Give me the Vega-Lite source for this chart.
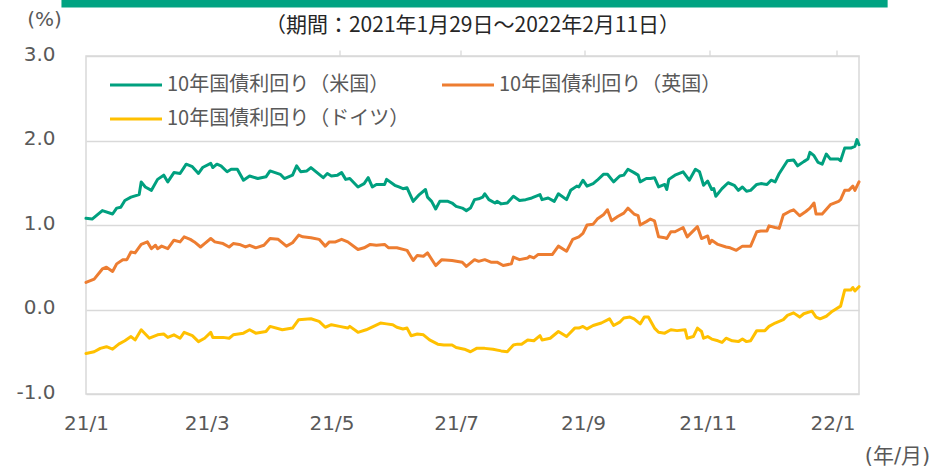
{
"$schema":"https://vega.github.io/schema/vega-lite/v6.json",
"width":773,"height":338,
"autosize":{"type":"none"},
"padding":{"left":86,"top":56,"right":74,"bottom":73},
"background":"#ffffff",
"config":{"view":{"stroke":"#d9d9d9","strokeWidth":1.5},"font":"Noto Sans CJK JP"},
"title":{"text":"（期間：2021年1月29日～2022年2月11日）","font":"Noto Sans CJK JP","fontSize":21,"fontWeight":"normal","color":"#262626","anchor":"middle","frame":"group","offset":-36},
"layer":[
{"data":{"values":[{"name":"header"}]},
"mark":{"type":"rect","color":"#00a382","clip":false},
"encoding":{
"x":{"datum":{"year":2021,"month":1,"date":17,"utc":true},"type":"temporal",
"scale":{"type":"utc","domain":[{"year":2021,"month":1,"date":29,"utc":true},{"year":2022,"month":2,"date":11,"utc":true}]},
"axis":{"orient":"top","position":253.5,"labels":false,"ticks":true,"tickSize":6,"tickColor":"#d9d9d9","tickWidth":1.3,"domain":false,"grid":false,"title":null,
"values":[{"year":2021,"month":1,"date":29,"utc":true},{"year":2021,"month":3,"date":29,"utc":true},{"year":2021,"month":5,"date":29,"utc":true},{"year":2021,"month":7,"date":29,"utc":true},{"year":2021,"month":9,"date":29,"utc":true},{"year":2021,"month":11,"date":29,"utc":true},{"year":2022,"month":1,"date":29,"utc":true}]}},
"x2":{"datum":{"year":2022,"month":2,"date":25,"utc":true}},
"y":{"datum":3.663,"type":"quantitative","scale":{"domain":[-1,3],"nice":false,"zero":false}},
"y2":{"datum":3.574}
}},
{"data":{"values":[
{"d":"2021-01-29","s":"米国","v":1.08},{"d":"2021-02-01","s":"米国","v":1.07},{"d":"2021-02-06","s":"米国","v":1.17},{"d":"2021-02-11","s":"米国","v":1.13},{"d":"2021-02-13","s":"米国","v":1.20},{"d":"2021-02-15","s":"米国","v":1.21},{"d":"2021-02-17","s":"米国","v":1.29},{"d":"2021-02-20","s":"米国","v":1.33},{"d":"2021-02-24","s":"米国","v":1.36},{"d":"2021-02-25","s":"米国","v":1.51},{"d":"2021-02-27","s":"米国","v":1.45},{"d":"2021-03-02","s":"米国","v":1.41},{"d":"2021-03-05","s":"米国","v":1.54},{"d":"2021-03-08","s":"米国","v":1.59},{"d":"2021-03-10","s":"米国","v":1.51},{"d":"2021-03-13","s":"米国","v":1.62},{"d":"2021-03-16","s":"米国","v":1.61},{"d":"2021-03-19","s":"米国","v":1.72},{"d":"2021-03-22","s":"米国","v":1.69},{"d":"2021-03-25","s":"米国","v":1.61},{"d":"2021-03-27","s":"米国","v":1.68},{"d":"2021-03-31","s":"米国","v":1.73},{"d":"2021-04-01","s":"米国","v":1.68},{"d":"2021-04-03","s":"米国","v":1.72},{"d":"2021-04-05","s":"米国","v":1.70},{"d":"2021-04-08","s":"米国","v":1.63},{"d":"2021-04-10","s":"米国","v":1.66},{"d":"2021-04-13","s":"米国","v":1.66},{"d":"2021-04-16","s":"米国","v":1.53},{"d":"2021-04-19","s":"米国","v":1.58},{"d":"2021-04-23","s":"米国","v":1.55},{"d":"2021-04-27","s":"米国","v":1.57},{"d":"2021-04-29","s":"米国","v":1.64},{"d":"2021-05-04","s":"米国","v":1.60},{"d":"2021-05-06","s":"米国","v":1.55},{"d":"2021-05-10","s":"米国","v":1.59},{"d":"2021-05-12","s":"米国","v":1.70},{"d":"2021-05-14","s":"米国","v":1.63},{"d":"2021-05-17","s":"米国","v":1.64},{"d":"2021-05-19","s":"米国","v":1.68},{"d":"2021-05-22","s":"米国","v":1.62},{"d":"2021-05-25","s":"米国","v":1.56},{"d":"2021-05-27","s":"米国","v":1.61},{"d":"2021-05-29","s":"米国","v":1.58},{"d":"2021-06-01","s":"米国","v":1.59},{"d":"2021-06-03","s":"米国","v":1.62},{"d":"2021-06-05","s":"米国","v":1.54},{"d":"2021-06-07","s":"米国","v":1.55},{"d":"2021-06-11","s":"米国","v":1.45},{"d":"2021-06-14","s":"米国","v":1.49},{"d":"2021-06-16","s":"米国","v":1.56},{"d":"2021-06-18","s":"米国","v":1.45},{"d":"2021-06-20","s":"米国","v":1.48},{"d":"2021-06-24","s":"米国","v":1.48},{"d":"2021-06-25","s":"米国","v":1.54},{"d":"2021-06-29","s":"米国","v":1.47},{"d":"2021-07-01","s":"米国","v":1.45},{"d":"2021-07-03","s":"米国","v":1.43},{"d":"2021-07-05","s":"米国","v":1.44},{"d":"2021-07-08","s":"米国","v":1.28},{"d":"2021-07-11","s":"米国","v":1.36},{"d":"2021-07-14","s":"米国","v":1.42},{"d":"2021-07-15","s":"米国","v":1.33},{"d":"2021-07-17","s":"米国","v":1.28},{"d":"2021-07-19","s":"米国","v":1.19},{"d":"2021-07-21","s":"米国","v":1.28},{"d":"2021-07-25","s":"米国","v":1.28},{"d":"2021-07-27","s":"米国","v":1.26},{"d":"2021-07-29","s":"米国","v":1.22},{"d":"2021-08-01","s":"米国","v":1.20},{"d":"2021-08-03","s":"米国","v":1.17},{"d":"2021-08-05","s":"米国","v":1.20},{"d":"2021-08-07","s":"米国","v":1.30},{"d":"2021-08-09","s":"米国","v":1.31},{"d":"2021-08-11","s":"米国","v":1.33},{"d":"2021-08-12","s":"米国","v":1.37},{"d":"2021-08-14","s":"米国","v":1.30},{"d":"2021-08-17","s":"米国","v":1.26},{"d":"2021-08-18","s":"米国","v":1.28},{"d":"2021-08-20","s":"米国","v":1.25},{"d":"2021-08-23","s":"米国","v":1.26},{"d":"2021-08-26","s":"米国","v":1.34},{"d":"2021-08-29","s":"米国","v":1.29},{"d":"2021-09-01","s":"米国","v":1.30},{"d":"2021-09-04","s":"米国","v":1.32},{"d":"2021-09-08","s":"米国","v":1.36},{"d":"2021-09-09","s":"米国","v":1.30},{"d":"2021-09-12","s":"米国","v":1.32},{"d":"2021-09-15","s":"米国","v":1.28},{"d":"2021-09-17","s":"米国","v":1.37},{"d":"2021-09-21","s":"米国","v":1.30},{"d":"2021-09-23","s":"米国","v":1.41},{"d":"2021-09-26","s":"米国","v":1.46},{"d":"2021-09-27","s":"米国","v":1.45},{"d":"2021-09-29","s":"米国","v":1.53},{"d":"2021-10-01","s":"米国","v":1.46},{"d":"2021-10-04","s":"米国","v":1.49},{"d":"2021-10-06","s":"米国","v":1.53},{"d":"2021-10-09","s":"米国","v":1.60},{"d":"2021-10-11","s":"米国","v":1.60},{"d":"2021-10-14","s":"米国","v":1.51},{"d":"2021-10-17","s":"米国","v":1.58},{"d":"2021-10-19","s":"米国","v":1.59},{"d":"2021-10-21","s":"米国","v":1.66},{"d":"2021-10-24","s":"米国","v":1.62},{"d":"2021-10-26","s":"米国","v":1.59},{"d":"2021-10-27","s":"米国","v":1.51},{"d":"2021-10-30","s":"米国","v":1.55},{"d":"2021-11-01","s":"米国","v":1.55},{"d":"2021-11-03","s":"米国","v":1.56},{"d":"2021-11-05","s":"米国","v":1.45},{"d":"2021-11-08","s":"米国","v":1.48},{"d":"2021-11-09","s":"米国","v":1.42},{"d":"2021-11-10","s":"米国","v":1.54},{"d":"2021-11-13","s":"米国","v":1.59},{"d":"2021-11-17","s":"米国","v":1.63},{"d":"2021-11-20","s":"米国","v":1.53},{"d":"2021-11-23","s":"米国","v":1.66},{"d":"2021-11-25","s":"米国","v":1.63},{"d":"2021-11-27","s":"米国","v":1.47},{"d":"2021-11-29","s":"米国","v":1.52},{"d":"2021-12-01","s":"米国","v":1.42},{"d":"2021-12-02","s":"米国","v":1.43},{"d":"2021-12-03","s":"米国","v":1.34},{"d":"2021-12-06","s":"米国","v":1.43},{"d":"2021-12-09","s":"米国","v":1.50},{"d":"2021-12-12","s":"米国","v":1.47},{"d":"2021-12-14","s":"米国","v":1.41},{"d":"2021-12-16","s":"米国","v":1.45},{"d":"2021-12-18","s":"米国","v":1.40},{"d":"2021-12-20","s":"米国","v":1.41},{"d":"2021-12-23","s":"米国","v":1.48},{"d":"2021-12-25","s":"米国","v":1.49},{"d":"2021-12-28","s":"米国","v":1.48},{"d":"2021-12-30","s":"米国","v":1.53},{"d":"2022-01-01","s":"米国","v":1.51},{"d":"2022-01-03","s":"米国","v":1.61},{"d":"2022-01-07","s":"米国","v":1.76},{"d":"2022-01-10","s":"米国","v":1.77},{"d":"2022-01-12","s":"米国","v":1.70},{"d":"2022-01-15","s":"米国","v":1.75},{"d":"2022-01-17","s":"米国","v":1.78},{"d":"2022-01-18","s":"米国","v":1.86},{"d":"2022-01-20","s":"米国","v":1.82},{"d":"2022-01-22","s":"米国","v":1.74},{"d":"2022-01-24","s":"米国","v":1.72},{"d":"2022-01-26","s":"米国","v":1.84},{"d":"2022-01-28","s":"米国","v":1.78},{"d":"2022-02-01","s":"米国","v":1.78},{"d":"2022-02-02","s":"米国","v":1.76},{"d":"2022-02-04","s":"米国","v":1.91},{"d":"2022-02-07","s":"米国","v":1.91},{"d":"2022-02-09","s":"米国","v":1.93},{"d":"2022-02-10","s":"米国","v":2.01},{"d":"2022-02-11","s":"米国","v":1.95},
{"d":"2021-01-29","s":"英国","v":0.32},{"d":"2021-02-02","s":"英国","v":0.36},{"d":"2021-02-06","s":"英国","v":0.48},{"d":"2021-02-08","s":"英国","v":0.50},{"d":"2021-02-11","s":"英国","v":0.45},{"d":"2021-02-13","s":"英国","v":0.54},{"d":"2021-02-16","s":"英国","v":0.59},{"d":"2021-02-18","s":"英国","v":0.59},{"d":"2021-02-20","s":"英国","v":0.68},{"d":"2021-02-22","s":"英国","v":0.67},{"d":"2021-02-25","s":"英国","v":0.77},{"d":"2021-02-28","s":"英国","v":0.80},{"d":"2021-03-02","s":"英国","v":0.72},{"d":"2021-03-04","s":"英国","v":0.76},{"d":"2021-03-05","s":"英国","v":0.72},{"d":"2021-03-07","s":"英国","v":0.75},{"d":"2021-03-10","s":"英国","v":0.72},{"d":"2021-03-13","s":"英国","v":0.82},{"d":"2021-03-16","s":"英国","v":0.80},{"d":"2021-03-18","s":"英国","v":0.86},{"d":"2021-03-21","s":"英国","v":0.83},{"d":"2021-03-23","s":"英国","v":0.80},{"d":"2021-03-26","s":"英国","v":0.74},{"d":"2021-03-28","s":"英国","v":0.78},{"d":"2021-03-31","s":"英国","v":0.84},{"d":"2021-04-02","s":"英国","v":0.80},{"d":"2021-04-06","s":"英国","v":0.78},{"d":"2021-04-09","s":"英国","v":0.74},{"d":"2021-04-11","s":"英国","v":0.78},{"d":"2021-04-14","s":"英国","v":0.77},{"d":"2021-04-17","s":"英国","v":0.74},{"d":"2021-04-19","s":"英国","v":0.76},{"d":"2021-04-22","s":"英国","v":0.73},{"d":"2021-04-26","s":"英国","v":0.76},{"d":"2021-04-29","s":"英国","v":0.84},{"d":"2021-05-03","s":"英国","v":0.83},{"d":"2021-05-07","s":"英国","v":0.75},{"d":"2021-05-10","s":"英国","v":0.79},{"d":"2021-05-13","s":"英国","v":0.88},{"d":"2021-05-15","s":"英国","v":0.86},{"d":"2021-05-19","s":"英国","v":0.85},{"d":"2021-05-23","s":"英国","v":0.83},{"d":"2021-05-26","s":"英国","v":0.75},{"d":"2021-05-28","s":"英国","v":0.80},{"d":"2021-05-31","s":"英国","v":0.80},{"d":"2021-06-03","s":"英国","v":0.83},{"d":"2021-06-06","s":"英国","v":0.80},{"d":"2021-06-11","s":"英国","v":0.71},{"d":"2021-06-14","s":"英国","v":0.73},{"d":"2021-06-17","s":"英国","v":0.77},{"d":"2021-06-20","s":"英国","v":0.76},{"d":"2021-06-24","s":"英国","v":0.77},{"d":"2021-06-26","s":"英国","v":0.73},{"d":"2021-06-30","s":"英国","v":0.73},{"d":"2021-07-05","s":"英国","v":0.70},{"d":"2021-07-08","s":"英国","v":0.58},{"d":"2021-07-10","s":"英国","v":0.64},{"d":"2021-07-13","s":"英国","v":0.63},{"d":"2021-07-15","s":"英国","v":0.67},{"d":"2021-07-19","s":"英国","v":0.52},{"d":"2021-07-22","s":"英国","v":0.59},{"d":"2021-07-27","s":"英国","v":0.58},{"d":"2021-08-01","s":"英国","v":0.56},{"d":"2021-08-03","s":"英国","v":0.51},{"d":"2021-08-07","s":"英国","v":0.59},{"d":"2021-08-09","s":"英国","v":0.57},{"d":"2021-08-12","s":"英国","v":0.59},{"d":"2021-08-15","s":"英国","v":0.56},{"d":"2021-08-18","s":"英国","v":0.56},{"d":"2021-08-21","s":"英国","v":0.52},{"d":"2021-08-25","s":"英国","v":0.54},{"d":"2021-08-26","s":"英国","v":0.62},{"d":"2021-08-29","s":"英国","v":0.59},{"d":"2021-09-02","s":"英国","v":0.61},{"d":"2021-09-03","s":"英国","v":0.63},{"d":"2021-09-05","s":"英国","v":0.61},{"d":"2021-09-07","s":"英国","v":0.65},{"d":"2021-09-11","s":"英国","v":0.65},{"d":"2021-09-14","s":"英国","v":0.65},{"d":"2021-09-17","s":"英国","v":0.75},{"d":"2021-09-21","s":"英国","v":0.69},{"d":"2021-09-24","s":"英国","v":0.83},{"d":"2021-09-27","s":"英国","v":0.86},{"d":"2021-09-29","s":"英国","v":0.90},{"d":"2021-10-01","s":"英国","v":1.00},{"d":"2021-10-04","s":"英国","v":1.01},{"d":"2021-10-06","s":"英国","v":1.07},{"d":"2021-10-09","s":"英国","v":1.12},{"d":"2021-10-11","s":"英国","v":1.18},{"d":"2021-10-13","s":"英国","v":1.05},{"d":"2021-10-16","s":"英国","v":1.10},{"d":"2021-10-19","s":"英国","v":1.14},{"d":"2021-10-21","s":"英国","v":1.20},{"d":"2021-10-24","s":"英国","v":1.13},{"d":"2021-10-26","s":"英国","v":1.11},{"d":"2021-10-27","s":"英国","v":1.00},{"d":"2021-10-30","s":"英国","v":1.04},{"d":"2021-11-01","s":"英国","v":1.07},{"d":"2021-11-03","s":"英国","v":1.05},{"d":"2021-11-05","s":"英国","v":0.86},{"d":"2021-11-08","s":"英国","v":0.85},{"d":"2021-11-09","s":"英国","v":0.84},{"d":"2021-11-11","s":"英国","v":0.92},{"d":"2021-11-13","s":"英国","v":0.92},{"d":"2021-11-17","s":"英国","v":0.97},{"d":"2021-11-19","s":"英国","v":0.86},{"d":"2021-11-24","s":"英国","v":0.98},{"d":"2021-11-26","s":"英国","v":0.84},{"d":"2021-11-29","s":"英国","v":0.87},{"d":"2021-11-30","s":"英国","v":0.78},{"d":"2021-12-01","s":"英国","v":0.82},{"d":"2021-12-04","s":"英国","v":0.77},{"d":"2021-12-08","s":"英国","v":0.74},{"d":"2021-12-10","s":"英国","v":0.73},{"d":"2021-12-13","s":"英国","v":0.70},{"d":"2021-12-16","s":"英国","v":0.75},{"d":"2021-12-20","s":"英国","v":0.75},{"d":"2021-12-23","s":"英国","v":0.92},{"d":"2021-12-25","s":"英国","v":0.93},{"d":"2021-12-28","s":"英国","v":0.93},{"d":"2021-12-29","s":"英国","v":0.99},{"d":"2022-01-01","s":"英国","v":0.97},{"d":"2022-01-03","s":"英国","v":0.96},{"d":"2022-01-05","s":"英国","v":1.12},{"d":"2022-01-08","s":"英国","v":1.16},{"d":"2022-01-10","s":"英国","v":1.18},{"d":"2022-01-13","s":"英国","v":1.11},{"d":"2022-01-16","s":"英国","v":1.16},{"d":"2022-01-18","s":"英国","v":1.20},{"d":"2022-01-20","s":"英国","v":1.26},{"d":"2022-01-21","s":"英国","v":1.13},{"d":"2022-01-24","s":"英国","v":1.13},{"d":"2022-01-28","s":"英国","v":1.24},{"d":"2022-02-01","s":"英国","v":1.28},{"d":"2022-02-02","s":"英国","v":1.30},{"d":"2022-02-04","s":"英国","v":1.41},{"d":"2022-02-06","s":"英国","v":1.41},{"d":"2022-02-08","s":"英国","v":1.46},{"d":"2022-02-09","s":"英国","v":1.41},{"d":"2022-02-11","s":"英国","v":1.51},
{"d":"2021-01-29","s":"ドイツ","v":-0.52},{"d":"2021-02-02","s":"ドイツ","v":-0.50},{"d":"2021-02-05","s":"ドイツ","v":-0.46},{"d":"2021-02-08","s":"ドイツ","v":-0.44},{"d":"2021-02-11","s":"ドイツ","v":-0.47},{"d":"2021-02-14","s":"ドイツ","v":-0.41},{"d":"2021-02-17","s":"ドイツ","v":-0.37},{"d":"2021-02-20","s":"ドイツ","v":-0.32},{"d":"2021-02-22","s":"ドイツ","v":-0.36},{"d":"2021-02-25","s":"ドイツ","v":-0.24},{"d":"2021-03-01","s":"ドイツ","v":-0.34},{"d":"2021-03-05","s":"ドイツ","v":-0.30},{"d":"2021-03-08","s":"ドイツ","v":-0.29},{"d":"2021-03-10","s":"ドイツ","v":-0.33},{"d":"2021-03-13","s":"ドイツ","v":-0.30},{"d":"2021-03-16","s":"ドイツ","v":-0.34},{"d":"2021-03-18","s":"ドイツ","v":-0.27},{"d":"2021-03-22","s":"ドイツ","v":-0.31},{"d":"2021-03-25","s":"ドイツ","v":-0.38},{"d":"2021-03-28","s":"ドイツ","v":-0.34},{"d":"2021-03-31","s":"ドイツ","v":-0.27},{"d":"2021-04-01","s":"ドイツ","v":-0.33},{"d":"2021-04-06","s":"ドイツ","v":-0.33},{"d":"2021-04-09","s":"ドイツ","v":-0.34},{"d":"2021-04-11","s":"ドイツ","v":-0.30},{"d":"2021-04-16","s":"ドイツ","v":-0.28},{"d":"2021-04-19","s":"ドイツ","v":-0.24},{"d":"2021-04-22","s":"ドイツ","v":-0.28},{"d":"2021-04-27","s":"ドイツ","v":-0.26},{"d":"2021-04-29","s":"ドイツ","v":-0.20},{"d":"2021-05-05","s":"ドイツ","v":-0.24},{"d":"2021-05-10","s":"ドイツ","v":-0.22},{"d":"2021-05-13","s":"ドイツ","v":-0.12},{"d":"2021-05-19","s":"ドイツ","v":-0.11},{"d":"2021-05-23","s":"ドイツ","v":-0.14},{"d":"2021-05-26","s":"ドイツ","v":-0.21},{"d":"2021-05-29","s":"ドイツ","v":-0.18},{"d":"2021-06-02","s":"ドイツ","v":-0.20},{"d":"2021-06-06","s":"ドイツ","v":-0.22},{"d":"2021-06-07","s":"ドイツ","v":-0.20},{"d":"2021-06-11","s":"ドイツ","v":-0.27},{"d":"2021-06-15","s":"ドイツ","v":-0.24},{"d":"2021-06-22","s":"ドイツ","v":-0.16},{"d":"2021-06-25","s":"ドイツ","v":-0.17},{"d":"2021-06-28","s":"ドイツ","v":-0.18},{"d":"2021-06-30","s":"ドイツ","v":-0.21},{"d":"2021-07-03","s":"ドイツ","v":-0.23},{"d":"2021-07-05","s":"ドイツ","v":-0.22},{"d":"2021-07-07","s":"ドイツ","v":-0.31},{"d":"2021-07-10","s":"ドイツ","v":-0.29},{"d":"2021-07-13","s":"ドイツ","v":-0.30},{"d":"2021-07-16","s":"ドイツ","v":-0.36},{"d":"2021-07-20","s":"ドイツ","v":-0.41},{"d":"2021-07-23","s":"ドイツ","v":-0.42},{"d":"2021-07-27","s":"ドイツ","v":-0.42},{"d":"2021-07-29","s":"ドイツ","v":-0.45},{"d":"2021-08-02","s":"ドイツ","v":-0.47},{"d":"2021-08-05","s":"ドイツ","v":-0.50},{"d":"2021-08-08","s":"ドイツ","v":-0.46},{"d":"2021-08-12","s":"ドイツ","v":-0.46},{"d":"2021-08-16","s":"ドイツ","v":-0.47},{"d":"2021-08-20","s":"ドイツ","v":-0.49},{"d":"2021-08-23","s":"ドイツ","v":-0.50},{"d":"2021-08-26","s":"ドイツ","v":-0.42},{"d":"2021-08-28","s":"ドイツ","v":-0.41},{"d":"2021-08-30","s":"ドイツ","v":-0.41},{"d":"2021-09-02","s":"ドイツ","v":-0.36},{"d":"2021-09-05","s":"ドイツ","v":-0.37},{"d":"2021-09-08","s":"ドイツ","v":-0.31},{"d":"2021-09-09","s":"ドイツ","v":-0.36},{"d":"2021-09-13","s":"ドイツ","v":-0.34},{"d":"2021-09-17","s":"ドイツ","v":-0.26},{"d":"2021-09-21","s":"ドイツ","v":-0.32},{"d":"2021-09-25","s":"ドイツ","v":-0.22},{"d":"2021-09-27","s":"ドイツ","v":-0.22},{"d":"2021-09-29","s":"ドイツ","v":-0.20},{"d":"2021-10-01","s":"ドイツ","v":-0.23},{"d":"2021-10-04","s":"ドイツ","v":-0.19},{"d":"2021-10-08","s":"ドイツ","v":-0.16},{"d":"2021-10-12","s":"ドイツ","v":-0.11},{"d":"2021-10-14","s":"ドイツ","v":-0.19},{"d":"2021-10-17","s":"ドイツ","v":-0.15},{"d":"2021-10-19","s":"ドイツ","v":-0.10},{"d":"2021-10-22","s":"ドイツ","v":-0.09},{"d":"2021-10-24","s":"ドイツ","v":-0.11},{"d":"2021-10-27","s":"ドイツ","v":-0.17},{"d":"2021-10-29","s":"ドイツ","v":-0.09},{"d":"2021-10-31","s":"ドイツ","v":-0.09},{"d":"2021-11-03","s":"ドイツ","v":-0.22},{"d":"2021-11-05","s":"ドイツ","v":-0.27},{"d":"2021-11-08","s":"ドイツ","v":-0.28},{"d":"2021-11-11","s":"ドイツ","v":-0.24},{"d":"2021-11-14","s":"ドイツ","v":-0.25},{"d":"2021-11-18","s":"ドイツ","v":-0.24},{"d":"2021-11-19","s":"ドイツ","v":-0.34},{"d":"2021-11-22","s":"ドイツ","v":-0.32},{"d":"2021-11-24","s":"ドイツ","v":-0.22},{"d":"2021-11-26","s":"ドイツ","v":-0.26},{"d":"2021-11-27","s":"ドイツ","v":-0.34},{"d":"2021-11-29","s":"ドイツ","v":-0.32},{"d":"2021-12-01","s":"ドイツ","v":-0.35},{"d":"2021-12-04","s":"ドイツ","v":-0.37},{"d":"2021-12-06","s":"ドイツ","v":-0.39},{"d":"2021-12-08","s":"ドイツ","v":-0.34},{"d":"2021-12-11","s":"ドイツ","v":-0.37},{"d":"2021-12-14","s":"ドイツ","v":-0.38},{"d":"2021-12-16","s":"ドイツ","v":-0.35},{"d":"2021-12-18","s":"ドイツ","v":-0.38},{"d":"2021-12-20","s":"ドイツ","v":-0.37},{"d":"2021-12-23","s":"ドイツ","v":-0.25},{"d":"2021-12-27","s":"ドイツ","v":-0.25},{"d":"2021-12-29","s":"ドイツ","v":-0.20},{"d":"2022-01-01","s":"ドイツ","v":-0.16},{"d":"2022-01-05","s":"ドイツ","v":-0.12},{"d":"2022-01-07","s":"ドイツ","v":-0.07},{"d":"2022-01-10","s":"ドイツ","v":-0.04},{"d":"2022-01-13","s":"ドイツ","v":-0.09},{"d":"2022-01-15","s":"ドイツ","v":-0.05},{"d":"2022-01-19","s":"ドイツ","v":-0.02},{"d":"2022-01-21","s":"ドイツ","v":-0.09},{"d":"2022-01-23","s":"ドイツ","v":-0.11},{"d":"2022-01-26","s":"ドイツ","v":-0.08},{"d":"2022-01-29","s":"ドイツ","v":-0.02},{"d":"2022-02-02","s":"ドイツ","v":0.04},{"d":"2022-02-04","s":"ドイツ","v":0.23},{"d":"2022-02-07","s":"ドイツ","v":0.23},{"d":"2022-02-08","s":"ドイツ","v":0.26},{"d":"2022-02-09","s":"ドイツ","v":0.22},{"d":"2022-02-11","s":"ドイツ","v":0.27}
]},
"mark":{"type":"line","strokeWidth":3,"strokeJoin":"round","strokeCap":"round"},
"encoding":{
"x":{"field":"d","type":"temporal",
"scale":{"type":"utc","domain":[{"year":2021,"month":1,"date":29,"utc":true},{"year":2022,"month":2,"date":11,"utc":true}]},
"axis":{"orient":"bottom","format":"%y/%-m","labelFlush":false,"labelOverlap":false,"labelBound":false,"labelAlign":"center","labelFont":"DejaVu Sans","labelFontSize":20,"labelColor":"#595959","labelPadding":19,"ticks":false,"domain":false,"grid":false,
"values":[{"year":2021,"month":1,"date":29,"utc":true},{"year":2021,"month":3,"date":29,"utc":true},{"year":2021,"month":5,"date":29,"utc":true},{"year":2021,"month":7,"date":29,"utc":true},{"year":2021,"month":9,"date":29,"utc":true},{"year":2021,"month":11,"date":29,"utc":true},{"year":2022,"month":1,"date":29,"utc":true}],
"title":"(年/月)","titleX":811,"titleY":62,"titleAlign":"center","titleBaseline":"middle","titleFont":"DejaVu Sans, Noto Sans CJK JP","titleFontSize":21,"titleFontWeight":"normal","titleColor":"#595959"}},
"y":{"field":"v","type":"quantitative",
"scale":{"domain":[-1,3],"nice":false,"zero":false},
"axis":{"values":[-1,0,1,2,3],"labelExpr":"datum.value < 0 ? '-' + format(-datum.value, '.1f') : format(datum.value, '.1f')","grid":true,"gridColor":"#d9d9d9","gridWidth":1.3,"domain":false,"ticks":false,"labelPadding":31,"labelOffset":-2,"labelFont":"DejaVu Sans","labelFontSize":20,"labelColor":"#595959","labelBaseline":"middle",
"title":"(%)","titleAngle":0,"titleX":-42,"titleY":-37,"titleAlign":"center","titleBaseline":"middle","titleFont":"DejaVu Sans","titleFontSize":20,"titleFontWeight":"normal","titleColor":"#595959"}},
"color":{"field":"s","type":"nominal",
"scale":{"domain":["米国","ドイツ","英国"],"range":["#00a07f","#ffc000","#ed7d31"]},
"legend":{"orient":"none","legendX":22.5,"legendY":14,"columns":2,"title":null,"symbolType":"stroke","symbolSize":2704,"symbolStrokeWidth":3,"symbolOffset":0,"clipHeight":30,"labelFont":"Noto Sans CJK JP","labelFontSize":20,"labelColor":"#595959","labelOffset":3.5,"labelLimit":400,"columnPadding":31,"rowPadding":4,"padding":0,"labelExpr":"'10年国債利回り（' + datum.label + '）'"}}
}}
],
"resolve":{"axis":{"x":"independent"}}
}
